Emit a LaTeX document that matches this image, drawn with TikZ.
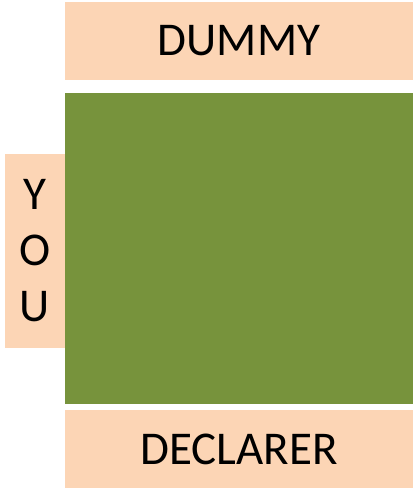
\documentclass[tikz,border=0pt]{standalone}
\usepackage{fontspec}
\setmainfont{Carlito}
\definecolor{peach}{HTML}{FCD5B5}
\definecolor{felt}{HTML}{77933C}

\begin{document}
\begin{tikzpicture}[x=1pt,y=-1pt,seat/.style={fill=peach,inner sep=0pt,font=\fontsize{47}{56}\selectfont}]
\useasboundingbox (0,0) rectangle (413,491);
\node[seat,minimum width=348pt,minimum height=78pt] (dummy) at (239,41) {DUMMY};
\node[fill=felt,inner sep=0pt,minimum width=348pt,minimum height=311pt] (table) at (239,248.5) {};
\node[seat,minimum width=60pt,minimum height=194pt,align=center] (you) at (35,251) {Y\\O\\U};
\node[seat,minimum width=348pt,minimum height=78pt] (declarer) at (239,449) {DECLARER};
\end{tikzpicture}
\end{document}
